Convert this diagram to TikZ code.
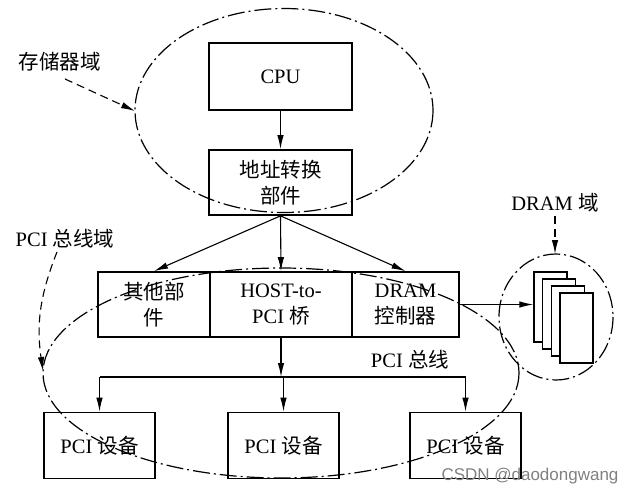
\documentclass[tikz,border=0pt]{standalone}
\usepackage{fontspec}
\setmainfont{Liberation Serif}
\newfontfamily\cjk{Noto Sans CJK SC}
\usetikzlibrary{arrows.meta}
\tikzset{flow/.style = {line width=1.1pt, -{Latex[length=14pt,width=6.5pt]}}}
\tikzset{hint/.style = {flow, dash pattern=on 8pt off 5pt}}
\tikzset{box/.style = {draw, line width=1.7pt, align=center, inner sep=0pt}}
\tikzset{card/.style = {draw, fill=white, line width=1.4pt, minimum width=33pt,
                        minimum height=70pt, inner sep=0pt}}
\tikzset{zone/.style = {line width=1.2pt, dash pattern=on 17pt off 4pt on 2pt off 4pt}}
\newcommand{\zh}[1]{{\cjk #1}}

\begin{document}
\begin{tikzpicture}[x=1pt, y=-1pt, font=\fontsize{20.5}{26}\selectfont]
    \useasboundingbox (0, 0) rectangle (627, 496);
    % domains
    \draw [zone] (284, 110.5) ellipse [x radius=149, y radius=102];
    \draw [zone] (281, 373) ellipse [x radius=238, y radius=105];
    \draw [zone] (556, 317) ellipse [x radius=57, y radius=63];
    \coordinate (memwest) at (135, 111);
    \coordinate (pciwest) at (43, 371);
    \coordinate (dramtop) at (556, 254);
    % boxes
    \node (cpu) at (280.5, 76.5) [box, minimum width=143pt, minimum height=67pt] {CPU};
    \node (addr) at (280.5, 182.5) [box, minimum width=143pt, minimum height=65pt] {\zh{地址转换}\\\zh{部件}};
    \node (other) at (154, 304.5) [box, minimum width=112pt, minimum height=65pt] {\zh{其他部}\\\zh{件}};
    \node (host) at (281, 304.5) [box, minimum width=142pt, minimum height=65pt] {HOST-to-\\PCI \zh{桥}};
    \node (dramc) at (405.5, 304.5) [box, minimum width=107pt, minimum height=65pt] {DRAM\\\zh{控制器}};
    \foreach \n/\x in {1/99.5, 2/283.5, 3/465.5}
        \node (dev\n) at (\x, 445.5) [box, minimum width=111pt, minimum height=66pt] {PCI \zh{设备}};
    \foreach \i in {0,...,3}
        \node (card\i) at (550.5+8.7*\i, 307+7*\i) [card] {};
    % labels
    \node (memlbl) at (60, 62) {\zh{存储器域}};
    \node (pcilbl) at (65, 239) {PCI \zh{总线域}};
    \node (dramlbl) at (555, 203) {DRAM \zh{域}};
    \node (buslbl) at (410, 360) {PCI \zh{总线}};
    \node (mark) at (530, 476) [text=gray, font=\fontspec{Liberation Sans}\fontsize{17}{20}\selectfont] {CSDN @daodongwang};
    % connections
    \draw [flow] (cpu) -- (addr);
    \draw [flow] (addr.south) -- (other.north);
    \draw [flow] (addr.south) -- (host.north);
    \draw [flow] (addr.south) -- (dramc.north);
    \draw [flow] (dramc.east) -- (dramc.east -| card0.west);
    \coordinate (bus) at (281, 377);
    \draw [line width=1.1pt] (dev1.north |- bus) -- (dev3.north |- bus);
    \draw [flow] (host.south) -- (bus);
    \foreach \n in {1, 2, 3}
        \draw [flow] (dev\n.north |- bus) -- (dev\n.north);
    \draw [hint] ([xshift=5pt, yshift=-4pt]memlbl.south) -- (memwest);
    \draw [hint] ([xshift=-8pt]pcilbl.south) to [bend right=15] (pciwest);
    \draw [hint] (dramlbl.south) -- (dramlbl.south |- dramtop);
\end{tikzpicture}
\end{document}
